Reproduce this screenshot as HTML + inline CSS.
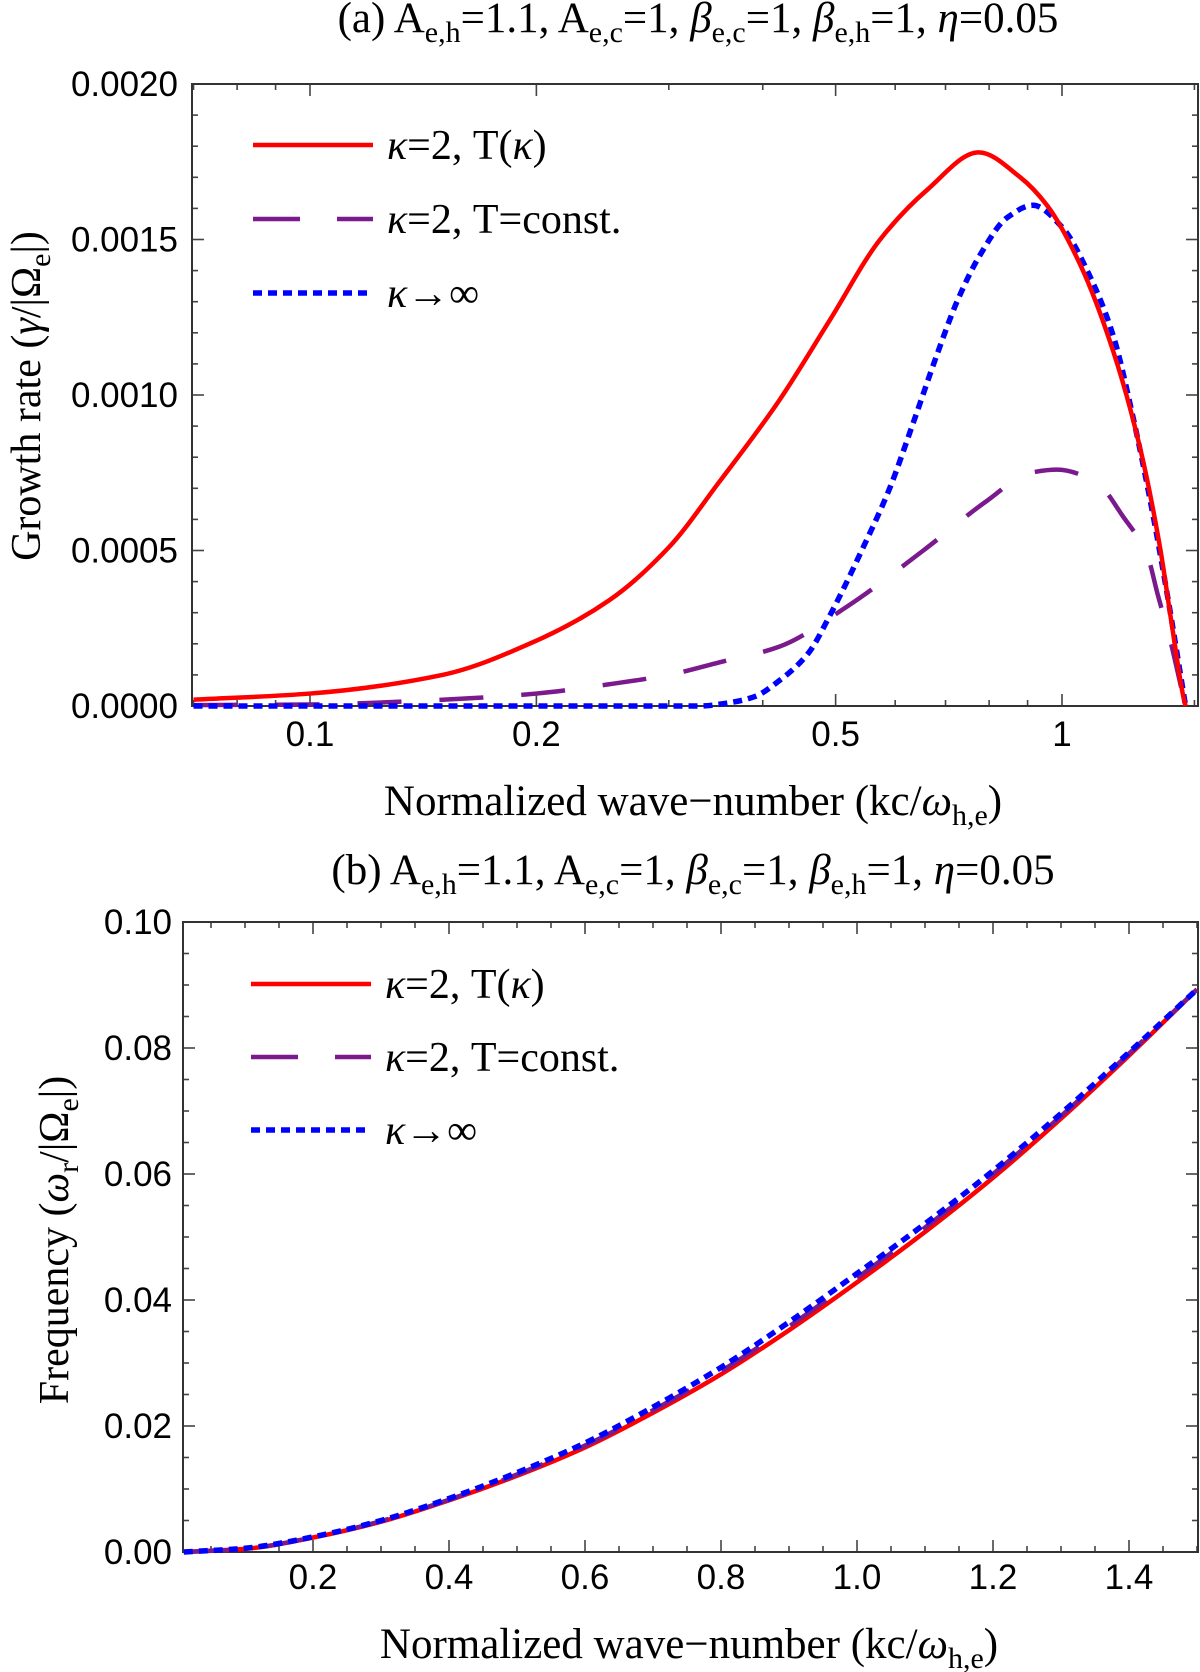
<!DOCTYPE html>
<html><head><meta charset="utf-8">
<style>
html,body{margin:0;padding:0;background:#fff;}
svg{display:block;}
.tk{font-family:"Liberation Sans",sans-serif;font-size:35px;fill:#000;}
.sr{font-family:"Liberation Serif",serif;fill:#000;}
</style></head>
<body>
<svg id="fig" width="1200" height="1672" viewBox="0 0 1200 1672" xmlns="http://www.w3.org/2000/svg">
  <g id="pa"></g>
  <g id="pb"></g>
</svg>
<script>
// ---------- Panel (a) data ----------
const aRedK = [0.07,0.1,0.15,0.2,0.25,0.3,0.35,0.42,0.491,0.573,0.662,0.775,0.88,0.955,1.057,1.17,1.27,1.35,1.40,1.45,1.46];
const aRedV = [0.00002,0.00004,0.0001,0.00021,0.00034,0.00051,0.00072,0.00098,0.00124,0.0015,0.00166,0.00178,0.0017,0.00161,0.00142,0.00114,0.00083,0.00051,0.00026,0.00003,0];
const aPurK = [0.07,0.1,0.15,0.2,0.25,0.3,0.35,0.42,0.518,0.654,0.795,0.907,0.985,1.11,1.205,1.30,1.34,1.39,1.45,1.46];
const aPurV = [0.000003,0.000005,0.00002,0.00004,0.00007,0.0001,0.00014,0.00019,0.00032,0.0005,0.00066,0.00075,0.00076,0.00072,0.00061,0.00048,0.00036,0.00022,0.00003,0];
const aBluK = [0.07,0.2,0.33,0.36,0.39,0.42,0.46,0.491,0.544,0.59,0.634,0.682,0.725,0.778,0.845,0.915,1.0,1.09,1.17,1.24,1.32,1.38,1.46];
const aBluV = [0,0,0,0.00001,0.00003,0.00008,0.00017,0.00029,0.00051,0.0007,0.00091,0.00113,0.0013,0.00145,0.00157,0.00161,0.00154,0.00138,0.00119,0.00094,0.00062,0.00036,0];
const aYTicks = ["0.0000","0.0005","0.0010","0.0015","0.0020"];
const aYTickVals = [0,0.0005,0.001,0.0015,0.002];
const aXTicks = ["0.1","0.2","0.5","1"];
const aXTickVals = [0.1,0.2,0.5,1];
// ---------- Panel (b) data ----------
const bK = [0.01,0.1,0.2,0.3,0.4,0.5,0.6,0.7,0.8,0.9,1.0,1.1,1.2,1.3,1.4,1.5];
const bRedV = [0,0.0005,0.0023,0.0048,0.0082,0.0121,0.0166,0.0221,0.0282,0.0352,0.0428,0.0508,0.0594,0.0688,0.0788,0.0893];
const bPurV = [0,0.0005,0.0023,0.0049,0.0083,0.0123,0.0169,0.0225,0.0287,0.0358,0.0435,0.0515,0.0600,0.0692,0.0791,0.0893];
const bBluV = [0,0.0006,0.0024,0.0050,0.0085,0.0126,0.0173,0.0230,0.0293,0.0365,0.0442,0.0521,0.0605,0.0696,0.0793,0.0893];
const bYTicks = ["0.00","0.02","0.04","0.06","0.08","0.10"];
const bYTickVals = [0,0.02,0.04,0.06,0.08,0.1];
const bXTicks = ["0.2","0.4","0.6","0.8","1.0","1.2","1.4"];
const bXTickVals = [0.2,0.4,0.6,0.8,1.0,1.2,1.4];

const NS="http://www.w3.org/2000/svg";
function mk(tag, attrs, parent){const e=document.createElementNS(NS,tag);for(const k in attrs)e.setAttribute(k,attrs[k]);parent.appendChild(e);return e;}

const A={L:192,R:1198,T:84,B:706};
const aX=k=>1062+752*Math.log10(k);
const aY=v=>A.B-(v/0.002)*(A.B-A.T);
const B={L:183,R:1198,T:922,B:1552};
const bX=k=>313+(k-0.2)*680;
const bY=v=>B.B-(v/0.1)*(B.B-B.T);

function smooth(pts){
  const n=pts.length,x=pts.map(p=>p[0]),y=pts.map(p=>p[1]);
  const d=[],m=new Array(n);
  for(let i=0;i<n-1;i++)d.push((y[i+1]-y[i])/(x[i+1]-x[i]));
  m[0]=d[0];m[n-1]=d[n-2];
  for(let i=1;i<n-1;i++){
    if(d[i-1]*d[i]<=0)m[i]=0;
    else{const h0=x[i]-x[i-1],h1=x[i+1]-x[i];const w1=2*h1+h0,w2=h1+2*h0;m[i]=(w1+w2)/(w1/d[i-1]+w2/d[i]);}
  }
  let s="M"+x[0].toFixed(2)+","+y[0].toFixed(2);
  for(let i=0;i<n-1;i++){
    const h=(x[i+1]-x[i])/3;
    s+=" C"+(x[i]+h).toFixed(2)+","+(y[i]+m[i]*h).toFixed(2)+" "+(x[i+1]-h).toFixed(2)+","+(y[i+1]-m[i+1]*h).toFixed(2)+" "+x[i+1].toFixed(2)+","+y[i+1].toFixed(2);
  }
  return s;
}
const styles={
  red:{stroke:"#ff0000","stroke-width":4.5,fill:"none"},
  pur:{stroke:"#7a1a8c","stroke-width":4.5,fill:"none","stroke-dasharray":"44 38"},
  blu:{stroke:"#0000ff","stroke-width":5.5,fill:"none","stroke-dasharray":"9 6"}
};

function frame(g,F,name){
  const r=mk("rect",{x:F.L,y:F.T,width:F.R-F.L,height:F.B-F.T,fill:"none",stroke:"#333","stroke-width":2},g);
  
  
}
function tick(g,x1,y1,x2,y2){mk("line",{x1,y1,x2,y2,stroke:"#444","stroke-width":1.6},g);}

function legend(g,x0,ys,labels){
  const keys=["red","pur","blu"];
  for(let i=0;i<3;i++){
    const lg=mk("g",{},g);
    
    
    const st=Object.assign({},styles[keys[i]]);
    if(keys[i]==="pur") st["stroke-dasharray"]="47 37";
    mk("line",Object.assign({x1:x0,y1:ys[i],x2:x0+120,y2:ys[i]},st),lg);
    const t=mk("text",{x:x0+134,y:ys[i]+14,"class":"sr","font-size":42},lg);
    t.innerHTML=labels[i];
  }
}
const legLabels=['<tspan font-style="italic">κ</tspan>=2, T(<tspan font-style="italic">κ</tspan>)',
  '<tspan font-style="italic">κ</tspan>=2, T=const.',
  '<tspan font-style="italic">κ</tspan>→∞'];
const titleTxt=l=>'('+l+') A<tspan font-size="30" dy="10">e,h</tspan><tspan dy="-10">=1.1, A</tspan><tspan font-size="30" dy="10">e,c</tspan><tspan dy="-10">=1, </tspan><tspan font-style="italic">β</tspan><tspan font-size="30" dy="10">e,c</tspan><tspan dy="-10">=1, </tspan><tspan font-style="italic">β</tspan><tspan font-size="30" dy="10">e,h</tspan><tspan dy="-10">=1, </tspan><tspan font-style="italic">η</tspan>=0.05';
const xlabTxt='Normalized wave−number (kc/<tspan font-style="italic">ω</tspan><tspan font-size="30" dy="10">h,e</tspan><tspan dy="-10">)</tspan>';

// ---------- Panel A ----------
(function(){
  const g=document.getElementById("pa");
  const t=mk("text",{x:698,y:32,"class":"sr","font-size":43,"text-anchor":"middle"},g);
  
  
  t.innerHTML=titleTxt("a");
  for(let i=0;i<=20;i++){
    const v=i*0.0001,y=aY(v),len=(i%5===0)?12:6;
    tick(g,A.L,y,A.L+len,y);tick(g,A.R,y,A.R-len,y);
  }
  const minors=[0.07,0.08,0.09,0.1,0.2,0.3,0.4,0.5,0.6,0.7,0.8,0.9,1,1.5];
  minors.forEach(k=>{const x=aX(k),len=aXTickVals.includes(k)?12:6;tick(g,x,A.T,x,A.T+len);tick(g,x,A.B,x,A.B-len);});
  frame(g,A,"panel-a-plot-frame");
  const yt=mk("g",{},g);
  
  
  aYTicks.forEach((s,i)=>{const e=mk("text",{x:178,y:aY(aYTickVals[i])+12,"class":"tk","text-anchor":"end"},yt);e.textContent=s;});
  const xt=mk("g",{},g);
  
  
  aXTicks.forEach((s,i)=>{const e=mk("text",{x:aX(aXTickVals[i]),y:746,"class":"tk","text-anchor":"middle"},xt);e.textContent=s;});
  const cp=mk("clipPath",{id:"ca"},g);mk("rect",{x:A.L,y:A.T-5,width:A.R-A.L,height:A.B-A.T+10},cp);
  const cg=mk("g",{"clip-path":"url(#ca)"},g);
  const series=[["pur",aPurK,aPurV,"series-kappa2-tconst"],["blu",aBluK,aBluV,"series-kappa-infinity"],["red",aRedK,aRedV,"series-kappa2-tkappa"]];
  series.forEach(s=>{
    const pts=s[1].map((k,i)=>[aX(k),aY(s[2][i])]);
    const p=mk("path",Object.assign({d:smooth(pts)},styles[s[0]]),cg);
    
    
  });
  legend(g,253,[145,219,293],legLabels);
  const xl=mk("text",{x:693,y:815,"class":"sr","font-size":43,"text-anchor":"middle"},g);
  
  
  xl.innerHTML=xlabTxt;
  const yl=mk("text",{x:0,y:0,"class":"sr","font-size":42,"text-anchor":"middle",transform:"translate(40,396) rotate(-90)"},g);
  
  
  yl.innerHTML='Growth rate (<tspan font-style="italic">γ</tspan>/|Ω<tspan font-size="30" dy="10">e</tspan><tspan dy="-10">|)</tspan>';
})();

// ---------- Panel B ----------
(function(){
  const g=document.getElementById("pb");
  const t=mk("text",{x:693,y:884,"class":"sr","font-size":43,"text-anchor":"middle"},g);
  
  
  t.innerHTML=titleTxt("b");
  for(let i=0;i<=20;i++){
    const v=i*0.005,y=bY(v),len=(i%4===0)?12:6;
    tick(g,B.L,y,B.L+len,y);tick(g,B.R,y,B.R-len,y);
  }
  for(let i=1;i<=30;i++){
    const k=i*0.05,x=bX(k);if(x<B.L||x>B.R)continue;
    const len=(i%4===0)?12:6;
    tick(g,x,B.T,x,B.T+len);tick(g,x,B.B,x,B.B-len);
  }
  frame(g,B,"panel-b-plot-frame");
  const yt=mk("g",{},g);
  
  
  bYTicks.forEach((s,i)=>{const e=mk("text",{x:172,y:bY(bYTickVals[i])+12,"class":"tk","text-anchor":"end"},yt);e.textContent=s;});
  const xt=mk("g",{},g);
  
  
  bXTicks.forEach((s,i)=>{const e=mk("text",{x:bX(bXTickVals[i]),y:1589,"class":"tk","text-anchor":"middle"},xt);e.textContent=s;});
  const cp=mk("clipPath",{id:"cb"},g);mk("rect",{x:B.L,y:B.T,width:B.R-B.L,height:B.B-B.T+5},cp);
  const cg=mk("g",{"clip-path":"url(#cb)"},g);
  const series=[["red",bRedV,"series-kappa2-tkappa"],["pur",bPurV,"series-kappa2-tconst"],["blu",bBluV,"series-kappa-infinity"]];
  series.forEach(s=>{
    const pts=bK.map((k,i)=>[bX(k),bY(s[1][i])]);
    const p=mk("path",Object.assign({d:smooth(pts)},styles[s[0]]),cg);
    
    
  });
  legend(g,251,[984,1057,1130],legLabels);
  const xl=mk("text",{x:689,y:1658,"class":"sr","font-size":43,"text-anchor":"middle"},g);
  
  
  xl.innerHTML=xlabTxt;
  const yl=mk("text",{x:0,y:0,"class":"sr","font-size":42,"text-anchor":"middle",transform:"translate(68,1240) rotate(-90)"},g);
  
  
  yl.innerHTML='Frequency (<tspan font-style="italic">ω</tspan><tspan font-size="30" dy="10">r</tspan><tspan dy="-10">/|Ω</tspan><tspan font-size="30" dy="10">e</tspan><tspan dy="-10">|)</tspan>';
})();
</script>
</body></html>
